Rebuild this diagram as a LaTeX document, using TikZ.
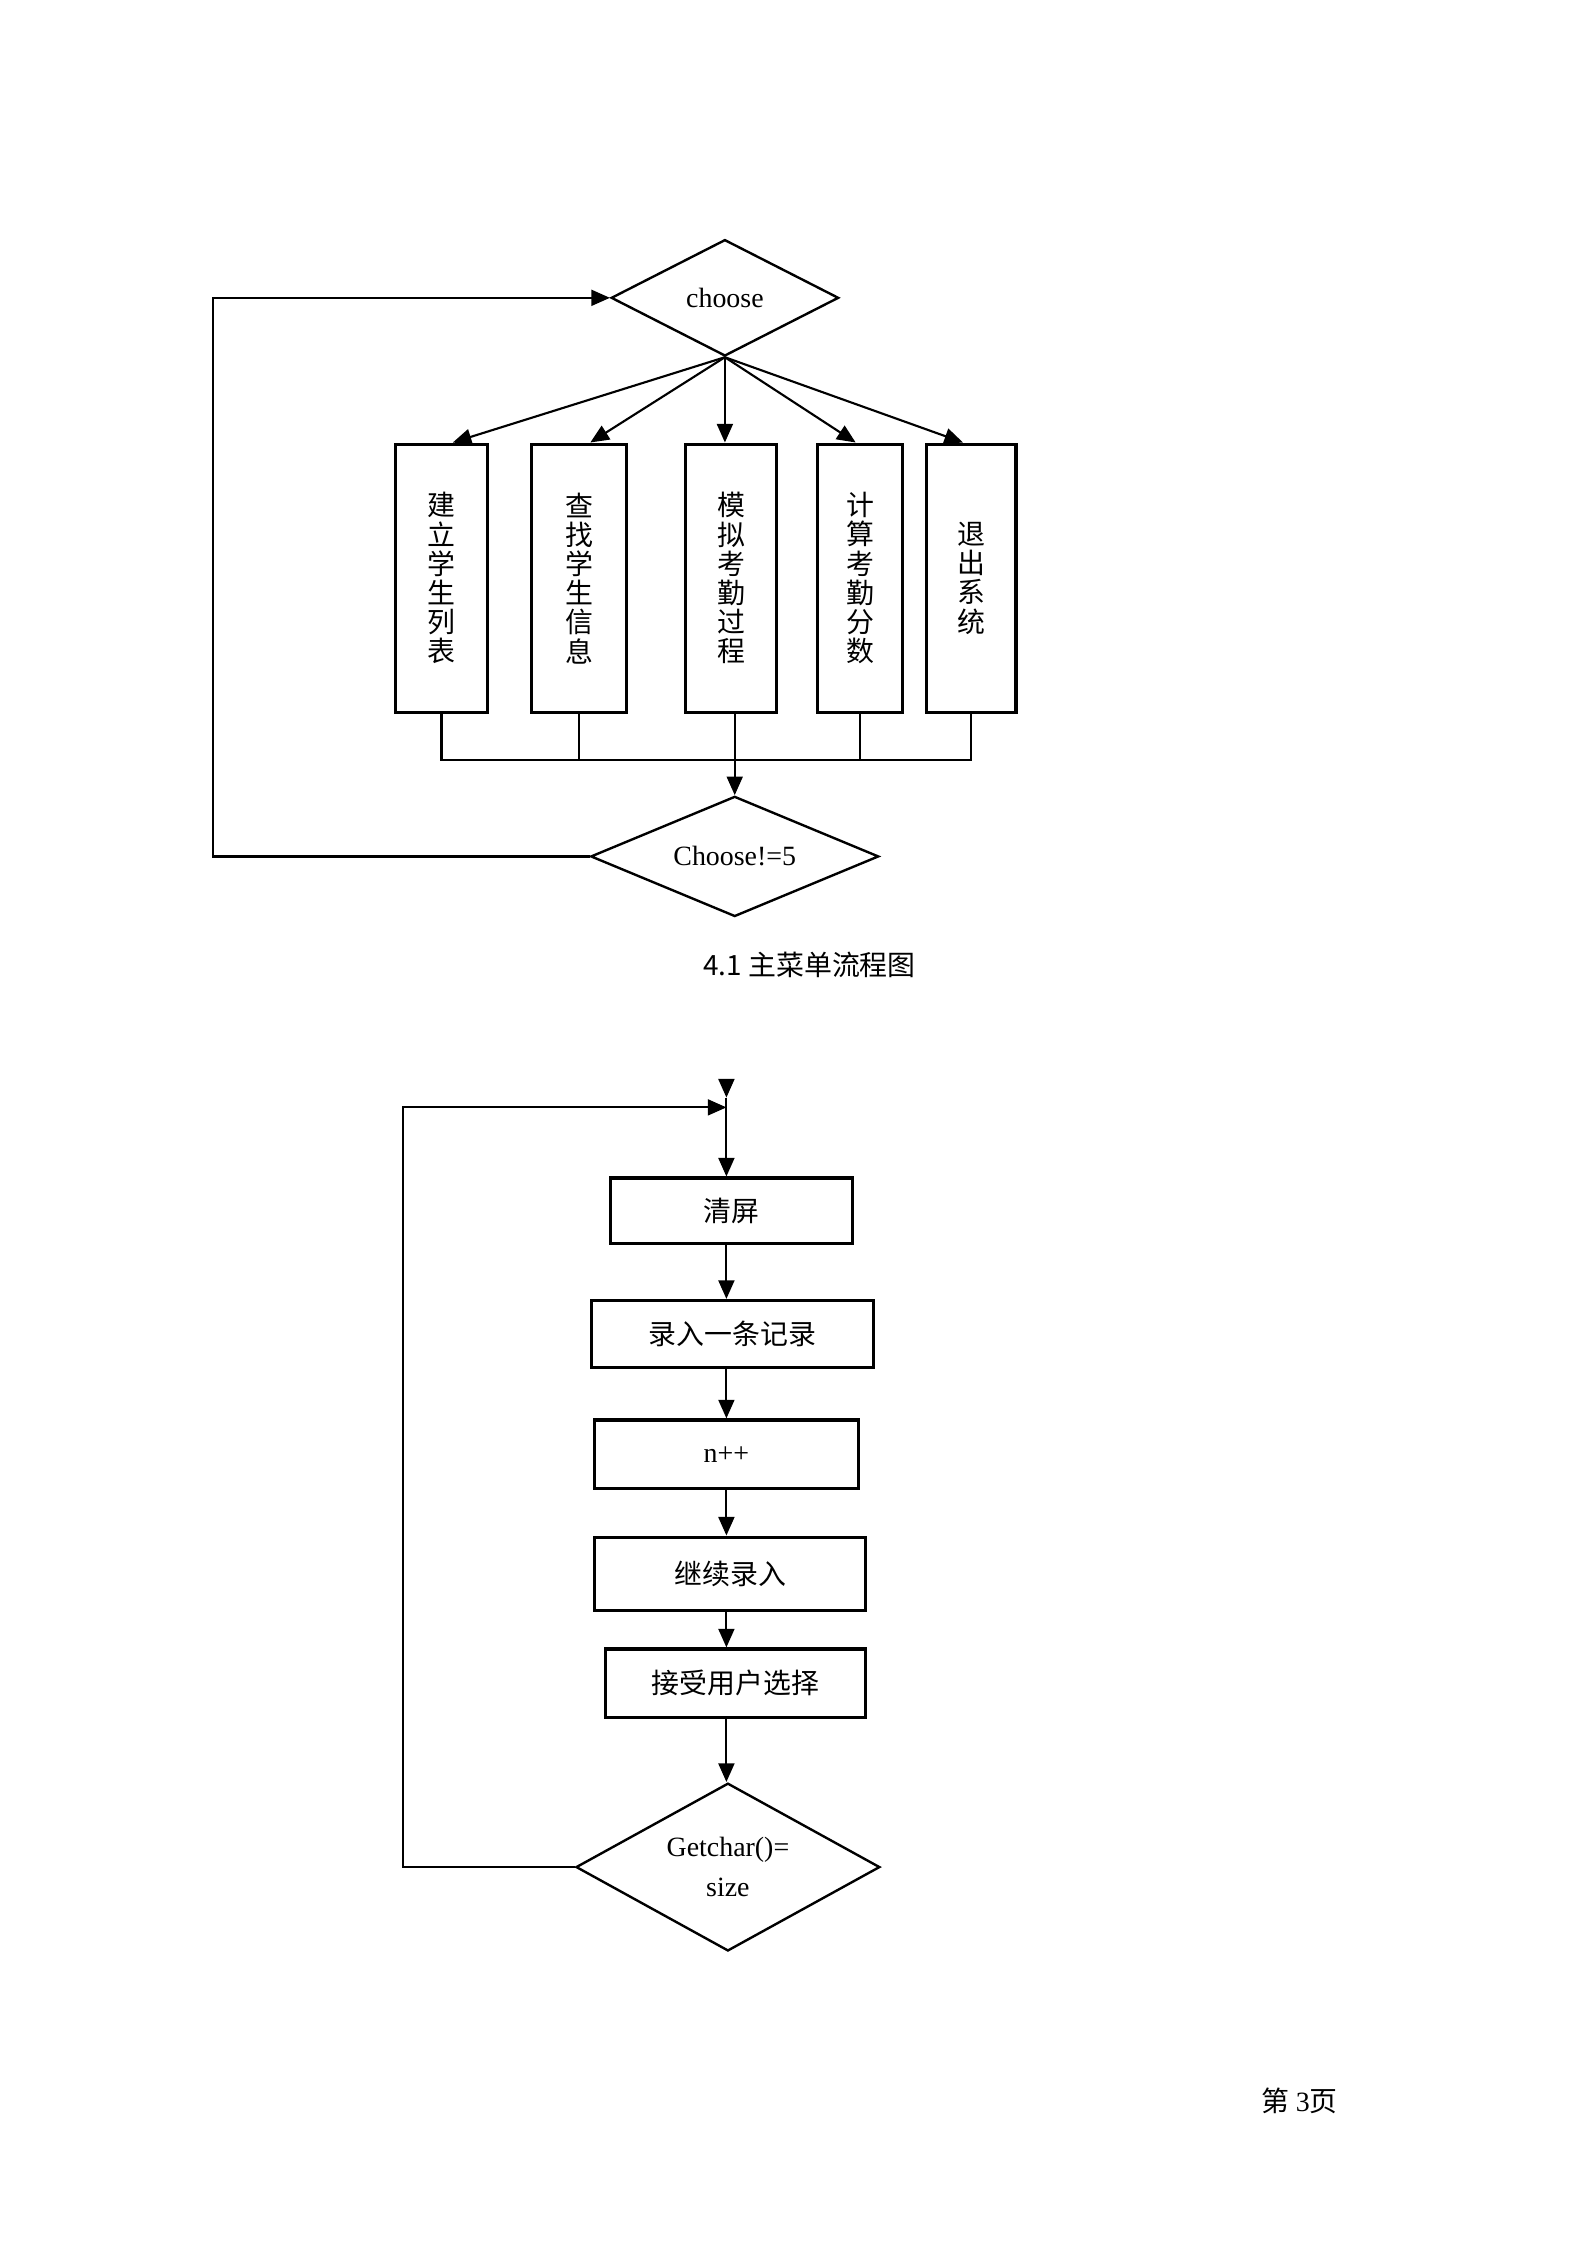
\documentclass[tikz,border=0pt]{standalone}
\usepackage{fontspec}
\setmainfont{Liberation Serif}
\newfontfamily\cjk{Noto Sans CJK SC}
\usetikzlibrary{shapes.geometric,arrows.meta}
\newcommand{\wuhao}{\fontsize{10.5}{11}\selectfont}

\tikzset{
	vbox/.style={draw,line width=1.2pt,minimum width=1.2cm,minimum height=3.55cm,inner sep=0pt,align=center,font=\wuhao\cjk},
	hbox/.style={draw,line width=1.2pt,minimum height=0.9cm,inner sep=0pt,font=\wuhao\cjk},
	choice/.style={draw,diamond,aspect=2,line width=0.9pt,inner sep=0pt,align=center},
	link/.style={line width=0.8pt},
	arr/.style={line width=0.8pt,-{Triangle[length=7pt,width=6pt]}}
}

\begin{document}
\begin{tikzpicture}[font=\wuhao]
	\useasboundingbox (0,0) rectangle (21,-29.7);
	% main menu
	\node[choice,minimum width=3.01cm,minimum height=1.54cm] (choose) at (9.59,-3.94) {choose};
	\foreach \n/\x/\w/\t in {b1/5.84/1.21/{建\\立\\学\\生\\列\\表},b2/7.66/1.25/{查\\找\\学\\生\\信\\息},b3/9.67/1.21/{模\\拟\\考\\勤\\过\\程},b4/11.38/1.12/{计\\算\\考\\勤\\分\\数},b5/12.85/1.18/{退\\出\\系\\统}}
	{
		\node[vbox,minimum width=\w cm] (\n) at (\x,-7.65) {\t};
	}
	\draw[arr] (choose.south) -- ([xshift=0.15cm]b1.north);
	\draw[arr] (choose.south) -- ([xshift=0.15cm]b2.north);
	\draw[arr] (choose.south) -- (choose.south |- b3.north);
	\draw[arr] (choose.south) -- ([xshift=-0.06cm]b4.north);
	\draw[arr] (choose.south) -- ([xshift=-0.11cm]b5.north);
	
	\coordinate (bus) at (0,-10.05);
	\coordinate (lp1) at (2.82,0);
	\draw[link] (b1.south) -- (b1.south |- bus) -- (b5.south |- bus) -- (b5.south);
	\foreach \n in {b2,b4}
		\draw[link] (\n.south) -- (\n.south |- bus);
	\node[choice,minimum width=3.81cm,minimum height=1.59cm] (c2) at (9.72,-11.33) {Choose!=5};
	\draw[arr] (b3.south -| c2.north) -- (c2.north);
	\draw[arr] (c2.west) -- (c2.west -| lp1) |- (choose.west);
	\node (cap) at (10.71,-12.77) {\cjk 4.1 主菜单流程图};
	
	% input loop
	\coordinate (top) at (9.61,-14.33);
	\coordinate (tip) at (9.61,-14.52);
	\coordinate (entry) at (9.61,-14.65);
	\coordinate (lp2) at (5.33,0);
	\node[hbox,minimum width=3.2cm,minimum height=0.87cm] (qp) at (9.68,-16.02) {清屏};
	\node[hbox,minimum width=3.73cm,minimum height=0.89cm] (lr) at (9.69,-17.65) {录入一条记录};
	\node[hbox,minimum width=3.49cm,minimum height=0.91cm,font=\wuhao] (np) at (9.61,-19.24) {n++};
	\node[hbox,minimum width=3.58cm,minimum height=0.97cm] (jx) at (9.66,-20.82) {继续录入};
	\node[hbox,minimum width=3.43cm,minimum height=0.91cm] (js) at (9.73,-22.27) {接受用户选择};
	\node[choice,minimum width=4.02cm,minimum height=2.22cm] (gc) at (9.63,-24.70) {Getchar()=\\[4pt]size};
	\draw[arr] (top) -- (tip);
	\draw[arr] (tip) -- (qp.north -| tip);
	\foreach \a/\b in {qp/lr,lr/np,np/jx,jx/js,js/gc}
		\draw[arr] (\a.south -| tip) -- (\b.north -| tip);
	\draw[arr] (gc.west) -- (gc.west -| lp2) |- (entry);
	
	\node (pg) at (17.19,-27.79) {{\cjk 第} 3{\cjk 页}};
\end{tikzpicture}
\end{document}
